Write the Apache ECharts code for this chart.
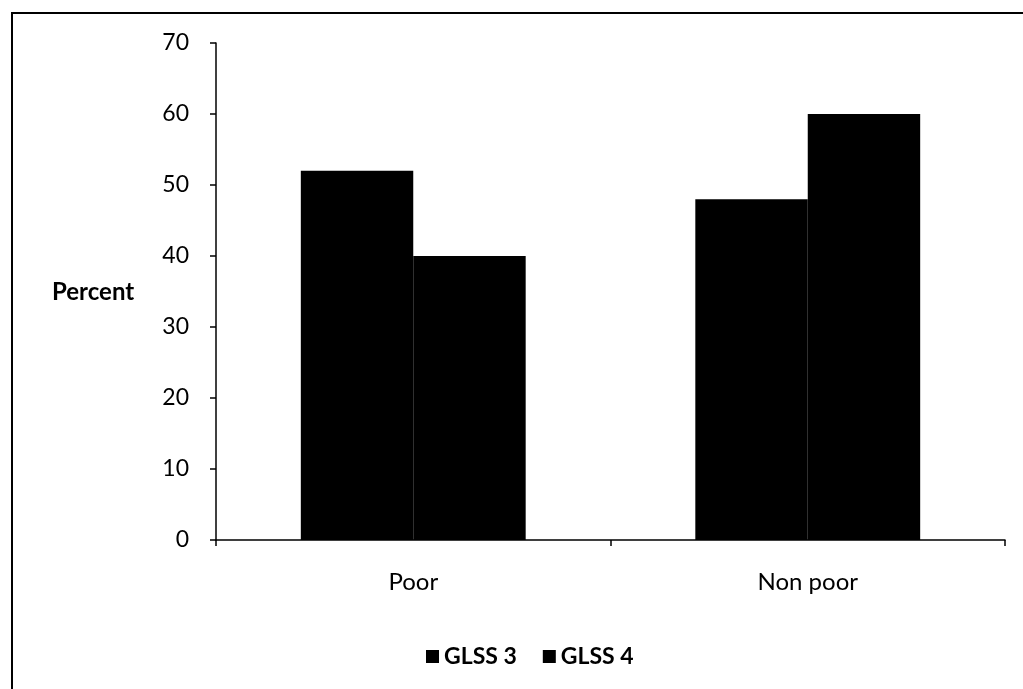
<!DOCTYPE html>
<html><head><meta charset="utf-8">
<script src="https://cdn.jsdelivr.net/npm/echarts@6/dist/echarts.min.js"></script>
<style>html,body{margin:0;padding:0;background:#fff}#c{width:1023px;height:689px}</style>
</head><body><div id="c"></div>
<script>
const categories = ['Poor', 'Non poor'];
const glss3 = [52, 48];
const glss4 = [40, 60];
const yTicks = [0, 10, 20, 30, 40, 50, 60, 70];
const seriesNames = ['GLSS 3', 'GLSS 4'];
const axisTitle = 'Percent';

const chart = echarts.init(document.getElementById('c'), null, {renderer: 'canvas'});
const font = 'Lato, "Open Sans", sans-serif';
chart.setOption({
  animation: false,
  backgroundColor: '#fff',
  grid: {left: 216, right: 18, top: 43, bottom: 149},
  graphic: [
    {type: 'rect', shape: {x: 12, y: 13, width: 1040, height: 700}, style: {fill: 'none', stroke: '#000', lineWidth: 2}},
    {type: 'text', left: 52, top: 280, style: {text: axisTitle, font: 'bold 24px ' + font, fill: '#000'}}
  ],
  legend: {
    left: 421, top: 640, itemWidth: 13, itemHeight: 13, itemGap: 26,
    icon: 'rect',
    textStyle: {fontFamily: font, fontSize: 23, fontWeight: 'bold', color: '#000'},
    data: seriesNames
  },
  xAxis: {
    type: 'category', data: categories,
    axisLine: {lineStyle: {color: '#000', width: 1.5}},
    axisTick: {show: true, length: 6, lineStyle: {color: '#000', width: 1.5}},
    axisLabel: {color: '#000', fontFamily: font, fontSize: 24, margin: 30}
  },
  yAxis: {
    type: 'value', min: yTicks[0], max: yTicks[yTicks.length - 1], interval: 10,
    axisLine: {show: true, lineStyle: {color: '#000', width: 1.5}},
    axisTick: {show: true, length: 6, lineStyle: {color: '#000', width: 1.5}},
    splitLine: {show: false},
    axisLabel: {color: '#000', fontFamily: font, fontSize: 23, margin: 27}
  },
  series: [
    {name: seriesNames[0], type: 'bar', data: glss3, barGap: '0%', barCategoryGap: '43%', itemStyle: {color: '#000'}},
    {name: seriesNames[1], type: 'bar', data: glss4, barGap: '0%', barCategoryGap: '43%', itemStyle: {color: '#000'}}
  ]
});
</script></body></html>
